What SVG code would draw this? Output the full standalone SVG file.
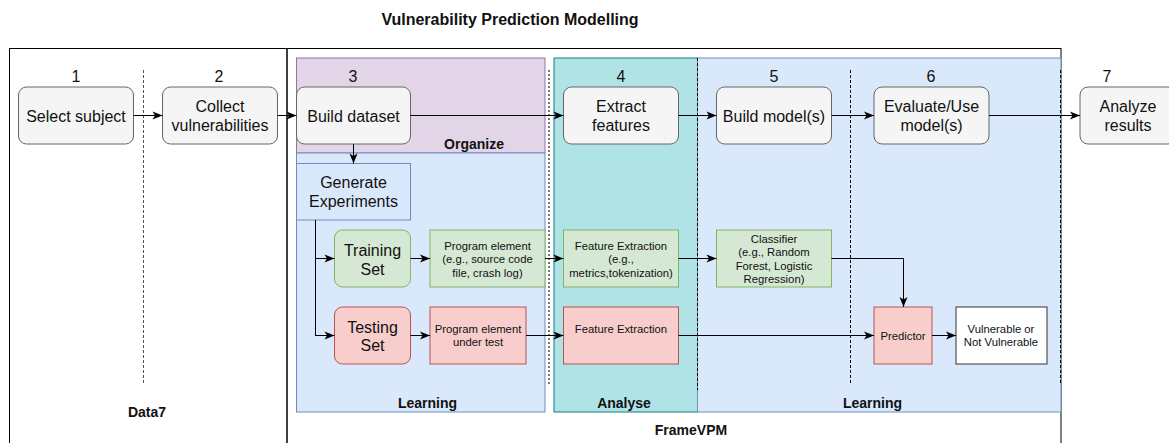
<svg xmlns="http://www.w3.org/2000/svg" width="1169" height="443" viewBox="0 0 1169 443">
  <defs>
    <marker id="arrow" markerUnits="userSpaceOnUse" markerWidth="12" markerHeight="10" viewBox="-1 -5 12 10" refX="10" refY="0" orient="auto">
      <path d="M0,-4 L10,0 L0,4 L2.5,0 Z" fill="#000"/>
    </marker>
  </defs>
  <style>
    text { font-family: "Liberation Sans", Arial, Helvetica, sans-serif; fill: #111; }
    .title { font-size: 16px; font-weight: bold; }
    .lbl { font-size: 14px; font-weight: bold; text-anchor: middle; }
    .num { font-size: 16px; text-anchor: middle; }
    .big { font-size: 16px; text-anchor: middle; }
    .small { font-size: 11.3px; text-anchor: middle; }
    .frame { fill: none; stroke: #000; stroke-width: 1; }
    .step { fill: #f5f5f5; stroke: #666; stroke-width: 1; }
    .green { fill: #d5e8d4; stroke: #82b366; stroke-width: 1; }
    .red { fill: #f8cecc; stroke: #b85450; stroke-width: 1; }
    .blue { fill: #dae8fc; stroke: #6c8ebf; stroke-width: 1; }
    .purple { fill: #e1d5e7; stroke: #9673a6; stroke-width: 1; }
    .teal { fill: #b0e3e6; stroke: #0e8088; stroke-width: 1; }
    .plain { fill: #fff; stroke: #333; stroke-width: 1; }
    .sep { stroke: #555; stroke-width: 1; stroke-dasharray: 3 2; fill: none; }
    .sepd { stroke: #000; stroke-width: 1; stroke-dasharray: 3 2; fill: none; }
    .sep2 { stroke: #777; stroke-width: 2; stroke-dasharray: 2 2; fill: none; }
    .conn { stroke: #000; stroke-width: 1; fill: none; marker-end: url(#arrow); }
    .line { stroke: #000; stroke-width: 1; fill: none; }
  </style>

  <rect width="1169" height="443" fill="#fff"/>

  <!-- title -->
  <text class="title" x="510" y="25" text-anchor="middle">Vulnerability Prediction Modelling</text>

  <!-- outer frames -->
  <g id="frame-data7">
    <rect class="frame" x="9.5" y="48.5" width="277.5" height="420"/>
    <text class="lbl" x="147" y="416.5">Data7</text>
  </g>
  <g id="frame-vpm">
    <rect class="frame" x="287" y="48.5" width="774" height="420"/>
    <text class="lbl" x="691" y="435">FrameVPM</text>
  </g>

  <!-- phase regions -->
  <g id="region-organize">
    <rect class="purple" x="296.5" y="58" width="248.5" height="95"/>
    <text class="lbl" x="474" y="149">Organize</text>
  </g>
  <g id="region-learning-left">
    <rect class="blue" x="296.5" y="153" width="248.5" height="259"/>
    <text class="lbl" x="427.5" y="407.5">Learning</text>
  </g>
  <g id="region-analyse">
    <rect class="teal" x="554" y="58" width="143.5" height="354"/>
    <text class="lbl" x="624" y="407.5">Analyse</text>
  </g>
  <g id="region-learning-right">
    <rect class="blue" x="697.5" y="58" width="363.5" height="354"/>
    <text class="lbl" x="872.5" y="407.5">Learning</text>
  </g>

  <!-- step separators -->
  <g id="separators">
    <line class="sep" x1="143.5" y1="70" x2="143.5" y2="384"/>
    <line class="sep2" x1="549" y1="70" x2="549" y2="384"/>
    <line class="sepd" x1="697.5" y1="58" x2="697.5" y2="390"/>
    <line class="sepd" x1="850.5" y1="70" x2="850.5" y2="384"/>
    <line class="sepd" x1="1060.5" y1="70" x2="1060.5" y2="384"/>
  </g>

  <!-- step numbers -->
  <g id="step-numbers">
    <text class="num" x="76" y="81.5">1</text>
    <text class="num" x="219" y="81.5">2</text>
    <text class="num" x="353" y="81.5">3</text>
    <text class="num" x="621" y="81.5">4</text>
    <text class="num" x="774" y="81.5">5</text>
    <text class="num" x="931" y="81.5">6</text>
    <text class="num" x="1107" y="81.5">7</text>
  </g>

  <!-- main pipeline steps -->
  <g id="select-subject">
    <rect class="step" x="18.5" y="87" width="115" height="57" rx="8"/>
    <text class="big" x="76" y="121.5">Select subject</text>
  </g>
  <g id="collect-vulnerabilities">
    <rect class="step" x="162.5" y="87" width="115" height="57" rx="8"/>
    <text class="big" x="220" y="111.5">Collect</text>
    <text class="big" x="220" y="130.5">vulnerabilities</text>
  </g>
  <g id="build-dataset">
    <rect class="step" x="296.5" y="87" width="114" height="57" rx="8"/>
    <text class="big" x="353.5" y="121.5">Build dataset</text>
  </g>
  <g id="extract-features">
    <rect class="step" x="563.5" y="87" width="115" height="57" rx="8"/>
    <text class="big" x="621" y="111.5">Extract</text>
    <text class="big" x="621" y="130.5">features</text>
  </g>
  <g id="build-models">
    <rect class="step" x="716.5" y="87" width="115" height="57" rx="8"/>
    <text class="big" x="774" y="121.5">Build model(s)</text>
  </g>
  <g id="evaluate-models">
    <rect class="step" x="874" y="87" width="115" height="57" rx="8"/>
    <text class="big" x="931.5" y="111.5">Evaluate/Use</text>
    <text class="big" x="931.5" y="130.5">model(s)</text>
  </g>
  <g id="analyze-results">
    <rect class="step" x="1080" y="87" width="96" height="57" rx="8"/>
    <text class="big" x="1128" y="111.5">Analyze</text>
    <text class="big" x="1128" y="130.5">results</text>
  </g>

  <!-- learning detail -->
  <g id="generate-experiments">
    <rect class="blue" x="296.5" y="163.5" width="114" height="56.5"/>
    <text class="big" x="353.5" y="188">Generate</text>
    <text class="big" x="353.5" y="207">Experiments</text>
  </g>
  <g id="training-set">
    <rect class="green" x="334.5" y="230" width="76" height="57" rx="8"/>
    <text class="big" x="372.5" y="256">Training</text>
    <text class="big" x="372.5" y="275">Set</text>
  </g>
  <g id="testing-set">
    <rect class="red" x="334.5" y="307" width="76" height="57" rx="8"/>
    <text class="big" x="372.5" y="332.5">Testing</text>
    <text class="big" x="372.5" y="351">Set</text>
  </g>
  <g id="program-element">
    <rect class="green" x="430" y="230" width="115" height="57"/>
    <text class="small" x="487.5" y="250">Program element</text>
    <text class="small" x="487.5" y="263.3">(e.g., source code</text>
    <text class="small" x="487.5" y="276.6">file, crash log)</text>
  </g>
  <g id="program-element-under-test">
    <rect class="red" x="430" y="307" width="96" height="57"/>
    <text class="small" x="478" y="333">Program element</text>
    <text class="small" x="478" y="346.3">under test</text>
  </g>
  <g id="feature-extraction-train">
    <rect class="green" x="563.5" y="230" width="115" height="57"/>
    <text class="small" x="621" y="250">Feature Extraction</text>
    <text class="small" x="621" y="263.3">(e.g.,</text>
    <text class="small" x="621" y="276.6">metrics,tokenization)</text>
  </g>
  <g id="feature-extraction-test">
    <rect class="red" x="563.5" y="307" width="115" height="57"/>
    <text class="small" x="621" y="333.3">Feature Extraction</text>
  </g>
  <g id="classifier">
    <rect class="green" x="716.5" y="230" width="115" height="57"/>
    <text class="small" x="774" y="243">Classifier</text>
    <text class="small" x="774" y="256.3">(e.g., Random</text>
    <text class="small" x="774" y="269.6">Forest, Logistic</text>
    <text class="small" x="774" y="282.9">Regression)</text>
  </g>
  <g id="predictor">
    <rect class="red" x="874" y="307" width="58" height="57"/>
    <text class="small" x="903" y="340">Predictor</text>
  </g>
  <g id="result">
    <rect class="plain" x="956" y="307" width="91" height="57"/>
    <text class="small" x="1001" y="333">Vulnerable or</text>
    <text class="small" x="1001" y="346.3">Not Vulnerable</text>
  </g>

  <!-- connectors -->
  <g id="connectors">
    <line class="conn" x1="133.5" y1="115.5" x2="162.5" y2="115.5"/>
    <line class="conn" x1="277.5" y1="115.5" x2="296.5" y2="115.5"/>
    <line class="conn" x1="410.5" y1="115.5" x2="563.5" y2="115.5"/>
    <line class="conn" x1="678.5" y1="115.5" x2="716.5" y2="115.5"/>
    <line class="conn" x1="831.5" y1="115.5" x2="874" y2="115.5"/>
    <line class="conn" x1="989" y1="115.5" x2="1080" y2="115.5"/>
    <line class="conn" x1="353.5" y1="144" x2="353.5" y2="163.5"/>
    <line class="line" x1="315.5" y1="220" x2="315.5" y2="336"/>
    <line class="conn" x1="315.5" y1="258.5" x2="334.5" y2="258.5"/>
    <line class="conn" x1="315.5" y1="335.5" x2="334.5" y2="335.5"/>
    <line class="conn" x1="410.5" y1="258.5" x2="430" y2="258.5"/>
    <line class="conn" x1="410.5" y1="335.5" x2="430" y2="335.5"/>
    <line class="conn" x1="545" y1="258.5" x2="563.5" y2="258.5" stroke-width="1.6"/>
    <line class="conn" x1="526" y1="335.5" x2="563.5" y2="335.5"/>
    <line class="conn" x1="678.5" y1="258.5" x2="716.5" y2="258.5"/>
    <polyline class="conn" points="831.5,258.5 903.5,258.5 903.5,307"/>
    <line class="conn" x1="678.5" y1="335.5" x2="874" y2="335.5"/>
    <line class="conn" x1="932" y1="335.5" x2="956" y2="335.5"/>
  </g>
</svg>
